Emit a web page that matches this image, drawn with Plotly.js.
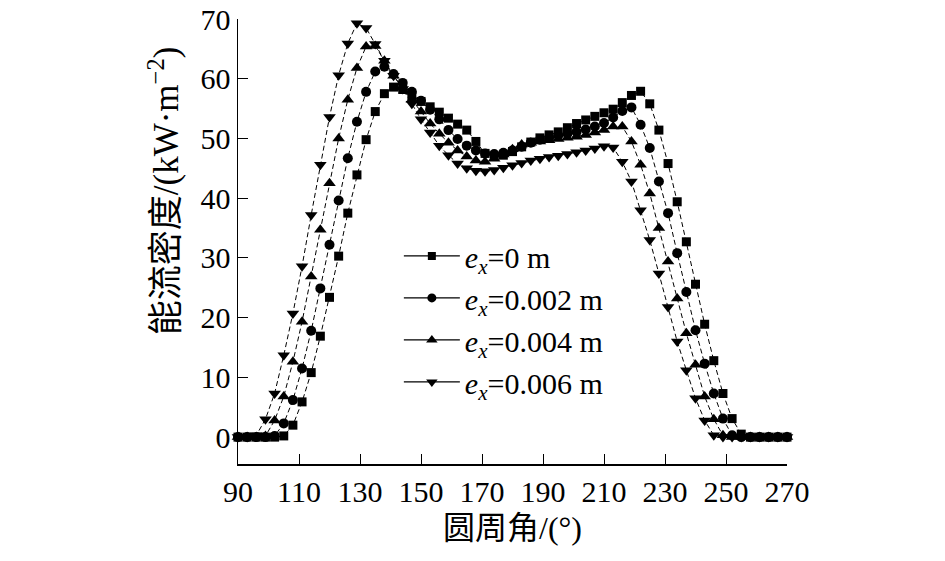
<!DOCTYPE html>
<html>
<head>
<meta charset="utf-8">
<script src="https://cdn.plot.ly/plotly-3.0.1.min.js"></script>
<style>
  html, body { margin: 0; padding: 0; background: #fff; }
  #chart { width: 945px; height: 561px; }
</style>
</head>
<body>
<div id="chart"></div>
<script>
// circumferential angle (deg)
const angle = [90, 93, 96, 99, 102, 105, 108, 111, 114, 117, 120, 123, 126, 129, 132, 135, 138, 141, 144, 147,
  150, 153, 156, 159, 162, 165, 168, 171, 174, 177, 180, 183, 186, 189, 192, 195, 198, 201, 204, 207,
  210, 213, 216, 219, 222, 225, 228, 231, 234, 237, 240, 243, 246, 249, 252, 255, 258, 261, 264, 267, 270];

// energy flux density (kW/m2) for each eccentricity
const ex0 = [0, 0, 0, 0, 0, 0.2,
  2.0, 5.9, 10.8, 16.9, 23.4, 30.3, 37.5, 43.9, 49.8, 54.5,
  57.5, 58.6, 58.2, 57.2, 56.2, 55.3, 54.4, 53.4, 52.4, 51.4,
  49.5, 47.5, 47.0, 47.2, 47.8, 48.6, 49.4, 50.1, 50.6, 51.1,
  51.8, 52.5, 53.1, 53.7, 54.3, 54.9, 56.0, 57.2, 57.9, 55.8,
  51.4, 45.8, 39.4, 32.7, 25.6, 18.9, 12.8, 7.3, 3.1, 0.5,
  0, 0, 0, 0, 0];

const ex002 = [0, 0, 0, 0, 0.2,
  2.3, 6.2, 11.5, 17.8, 24.9, 32.2, 39.6, 46.7, 52.8, 57.8,
  61.2, 62.0, 60.8, 59.3, 57.8, 56.3, 54.8, 53.2, 51.4, 49.9,
  48.8, 48.0, 47.5, 47.4, 47.6, 48.0, 48.6, 49.3, 49.8, 50.1,
  50.5, 50.8, 51.1, 51.5, 52.0, 52.6, 53.5, 54.6, 55.2, 52.3,
  48.4, 42.8, 37.5, 30.8, 24.3, 17.9, 12.3, 7.3, 3.1, 0.3,
  0, 0, 0, 0, 0, 0];

const ex004 = [0, 0, 0, 0.2,
  2.8, 6.8, 12.6, 19.3, 26.9, 34.7, 42.5, 50.0, 56.5, 61.8,
  65.4, 65.5, 63.0, 60.5, 58.5, 56.5, 54.5, 52.5, 50.8, 49.3,
  48.0, 47.0, 46.3, 46.1, 46.6, 47.3, 48.2, 49.0, 49.3, 49.5,
  49.7, 49.9, 50.1, 50.3, 50.6, 51.0, 51.4, 52.0, 52.0, 49.5,
  45.6, 40.8, 35.0, 29.4, 23.2, 17.4, 12.1, 6.8, 3.0, 0.3,
  0, 0, 0, 0, 0, 0, 0];

const ex006 = [0, 0,
  0.3, 3.0, 7.3, 13.7, 20.7, 28.6, 37.2, 45.6, 53.6, 60.6,
  65.9, 69.3, 68.5, 65.8, 63.0, 60.5, 58.3, 55.8, 53.2, 51.0,
  48.8, 47.2, 45.8, 45.0, 44.6, 44.5, 44.7, 45.1, 45.5, 45.9,
  46.3, 46.6, 46.9, 47.1, 47.4, 47.7, 48.0, 48.3, 48.7, 48.5,
  46.1, 42.8, 38.0, 33.0, 27.4, 21.8, 16.0, 11.2, 6.5, 2.8,
  0.3, 0, 0, 0, 0, 0, 0, 0, 0];

const seriesNames = [
  "<i>e<sub>x</sub></i>=0 m",
  "<i>e<sub>x</sub></i>=0.002 m",
  "<i>e<sub>x</sub></i>=0.004 m",
  "<i>e<sub>x</sub></i>=0.006 m"
];
const seriesData = [ex0, ex002, ex004, ex006];
const symbols = ["square", "circle", "triangle-up", "triangle-down"];
const sizes = [9, 10, 11, 11];

const SERIF = "'Liberation Serif', 'Times New Roman', serif";
const CJK = "'Liberation Serif', 'Noto Sans CJK SC', serif";

const traces = [];
// data traces: thin dashed lines
seriesData.forEach((ys, i) => {
  traces.push({
    x: angle,
    y: ys,
    type: "scatter",
    mode: "lines+markers",
    showlegend: false,
    cliponaxis: false,
    line: { color: "#000", width: 1, dash: "5px,3px" },
    marker: { symbol: symbols[i], size: sizes[i], color: "#000" }
  });
});
// legend entries: solid line with marker
seriesNames.forEach((name, i) => {
  traces.push({
    x: [null],
    y: [null],
    type: "scatter",
    mode: "lines+markers",
    name: name,
    line: { color: "#000", width: 1.2 },
    marker: { symbol: symbols[i], size: sizes[i] - 1, color: "#000" }
  });
});

Plotly.newPlot("chart", traces, {
  width: 945,
  height: 561,
  paper_bgcolor: "#fff",
  plot_bgcolor: "#fff",
  font: { family: SERIF, color: "#000", size: 30 },
  margin: { l: 238, r: 158, t: 19, b: 97 },
  xaxis: {
    range: [90, 270],
    tickvals: [90, 110, 130, 150, 170, 190, 210, 230, 250, 270],
    ticks: "inside",
    ticklen: 10,
    tickwidth: 1,
    tickcolor: "#000",
    showline: true,
    linecolor: "#000",
    linewidth: 1.5,
    showgrid: false,
    zeroline: false,
    tickfont: { family: SERIF, size: 30 },
    title: { text: "圆周角/(°)", font: { family: CJK, size: 32 }, standoff: 10 }
  },
  yaxis: {
    range: [-4.5, 70],
    tickvals: [0, 10, 20, 30, 40, 50, 60, 70],
    ticks: "inside",
    ticklen: 10,
    tickwidth: 1,
    tickcolor: "#000",
    showline: true,
    linecolor: "#000",
    linewidth: 1.5,
    showgrid: false,
    zeroline: false,
    tickfont: { family: SERIF, size: 30 }
  },
  annotations: [{
    text: "能流密度/(kW·m<sup>−2</sup>)",
    xref: "paper", yref: "paper",
    x: -0.135, y: 0.615,
    xanchor: "center", yanchor: "middle",
    textangle: -90,
    showarrow: false,
    font: { family: CJK, size: 35, color: "#000" }
  }],
  legend: {
    x: 0.293, y: 0.526,
    xanchor: "left", yanchor: "top",
    bgcolor: "rgba(0,0,0,0)",
    font: { family: SERIF, size: 30, color: "#000" },
    itemwidth: 56,
    tracegroupgap: 0
  },
  showlegend: true
}, { displayModeBar: false, staticPlot: true });
</script>
</body>
</html>
